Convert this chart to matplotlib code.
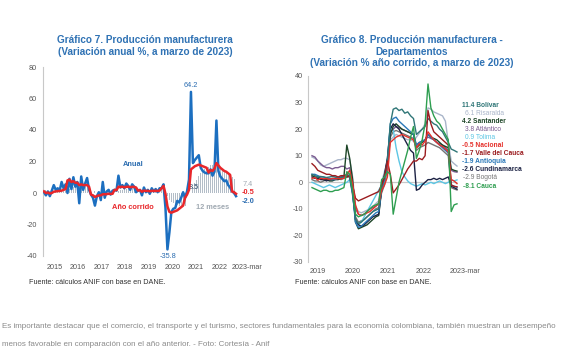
import numpy as np
import matplotlib
matplotlib.use("Agg")
import matplotlib.pyplot as plt

# ---- Gráfico 7: monthly, Jan 2015 - Mar 2023 ----
anual = [
    0.5, -1.5, 1.0, -2.0, 1.5, 5.0, 2.0, 3.0, 1.5, 7.0, 3.0, 5.5,          # 2015
    0.0, 9.0, 2.5, 10.0, 4.0, 7.0, -6.5, 10.5, 2.0, 6.0, 9.5, 2.0,         # 2016
    -1.0, -3.0, -8.0, -2.0, 0.5, -4.5, 7.0, -3.0, 1.0, 2.0, -1.0, 1.5,     # 2017
    2.0, 1.5, 11.0, 3.5, 5.0, 3.0, 6.0, 4.5, 2.0, 5.5, 4.0, 0.5,           # 2018
    1.5, 2.0, -1.5, 3.5, 0.5, 2.0, -0.5, 3.0, 1.0, 2.5, 0.5, 3.0,          # 2019
    3.0, 5.5, -9.5, -35.8, -25.0, -12.0, -10.0, -9.5, -5.0, -6.0, -3.0, 0.5,  # 2020
    -3.0, 1.0, 8.5, 64.2, 19.0, 21.0, 22.5, 24.0, 16.0, 14.0, 13.0, 12.5,  # 2021
    12.5, 15.0, 11.0, 13.5, 46.0, 14.0, 10.5, 9.0, 7.5, 8.0, 5.0, 3.5,     # 2022
    1.0, 0.0, -2.0,                                                        # 2023
]
anio_corrido = [
    1.0, 0.0, 0.3, -0.3, 0.0, 0.8, 1.0, 1.2, 1.3, 1.5, 2.0, 2.5,
    8.0, 8.5, 7.0, 7.5, 6.5, 6.5, 5.0, 5.5, 5.0, 5.0, 5.0, 4.0,
    -1.0, -1.5, -2.5, -2.0, -1.5, -1.5, -0.8, -0.8, -0.7, -0.5, -0.6, -0.5,
    2.0, 1.8, 4.0, 3.8, 4.0, 3.6, 3.9, 4.0, 3.7, 3.9, 3.9, 3.5,
    1.5, 1.8, 0.8, 1.5, 1.3, 1.4, 1.1, 1.4, 1.3, 1.4, 1.3, 1.5,
    3.0, 4.5, -0.5, -8.5, -12.0, -12.5, -12.0, -11.5, -11.0, -10.0, -9.0, -8.0,
    -3.0, -1.0, 2.0, 15.0, 16.0, 17.0, 17.5, 18.0, 17.5, 17.0, 16.5, 16.0,
    13.0, 14.5, 14.0, 15.5, 19.0, 17.5, 16.0, 15.0, 14.0, 13.5, 12.5, 11.5,
    1.0, 0.5, -0.5,
]
doce_meses = [
    2.5, 2.0, 1.5, 1.2, 1.0, 1.0, 1.0, 1.2, 1.2, 1.3, 1.5, 1.5,
    2.0, 2.8, 2.8, 3.5, 3.6, 3.8, 3.0, 3.6, 3.5, 3.8, 4.0, 3.5,
    3.2, 2.2, 1.3, 0.0, -0.2, -1.0, 0.5, -0.5, -0.3, -0.6, -1.5, -0.5,
    -0.3, -0.1, 1.5, 1.8, 2.1, 2.7, 2.7, 3.3, 3.3, 3.6, 4.0, 3.5,
    3.5, 3.6, 2.5, 2.5, 2.1, 2.0, 1.4, 1.3, 1.3, 1.0, 0.7, 1.5,
    1.6, 1.8, 1.0, -2.2, -4.5, -5.6, -6.4, -7.4, -7.8, -8.4, -8.7, -8.0,
    -8.5, -8.7, -7.5, 0.5, 4.0, 6.5, 8.5, 11.0, 12.5, 14.0, 15.0, 15.5,
    16.5, 17.5, 17.5, 14.5, 17.5, 17.0, 16.0, 15.0, 14.0, 13.5, 12.5, 11.0,
    10.0, 9.0, 7.4,
]
years_left = ["2015", "2016", "2017", "2018", "2019", "2020", "2021", "2022", "2023-mar"]

# ---- Gráfico 8: año corrido por departamento, Jan 2019 - Mar 2023 ----
bolivar = [
    3.0, 2.5, 2.0, 2.2, 2.0, 1.8, 2.0, 2.2, 2.0, 1.5, 1.8, 2.0,
    3.0, 2.0, -3.0, -14.0, -15.5, -15.0, -14.0, -13.0, -12.0, -11.0, -10.5, -10.0,
    -2.0, 2.0, 8.0, 22.0, 27.5, 28.0, 27.0, 27.5, 26.0, 26.5, 25.0, 24.0,
    18.0, 19.0, 20.0, 21.0, 24.0, 23.0, 22.0, 21.5, 20.0, 19.0, 17.0, 15.0,
    12.5, 12.0, 11.4,
]
risaralda = [
    9.5, 9.0, 8.0, 6.5, 6.0, 6.5, 7.0, 7.5, 8.0, 8.5, 8.5, 9.0,
    9.0, 8.5, 2.0, -9.0, -11.0, -11.5, -11.0, -10.5, -10.0, -9.0, -8.0, -7.0,
    0.0, 4.0, 8.0, 16.0, 17.0, 18.0, 17.5, 17.0, 16.5, 16.0, 16.0, 15.5,
    17.0, 18.5, 20.0, 22.0, 28.0, 27.5, 26.5, 26.0, 25.5, 25.0, 23.0, 15.0,
    8.0, 7.0, 6.1,
]
santander = [
    2.5, 2.0, 2.0, 1.5, 1.0, 1.0, 0.5, 0.5, 1.0, 1.0, 1.5, 2.0,
    14.0, 9.0, 1.0, -15.0, -17.5, -17.0, -16.5, -16.0, -15.0, -14.0, -13.0, -12.5,
    -3.0, 2.0, 8.0, 18.0, 21.0, 22.0, 21.0, 20.0, 19.5, 19.0, 18.5, 18.0,
    13.0, 14.0, 15.0, 16.0, 18.0, 17.0, 16.5, 16.0, 15.0, 14.0, 13.5, 13.0,
    5.0, 4.5, 4.2,
]
atlantico = [
    10.0, 9.5, 8.0, 7.0, 6.0, 5.5, 5.5, 5.0, 5.5, 5.5, 6.0, 6.0,
    5.0, 5.5, 0.0, -10.0, -12.0, -12.5, -12.0, -11.0, -10.0, -9.5, -9.0, -8.0,
    -1.0, 2.0, 6.0, 19.0, 20.0, 21.0, 20.5, 20.0, 19.5, 19.0, 18.5, 18.0,
    14.0, 15.0, 15.5, 16.0, 17.0, 16.5, 16.0, 15.0, 14.5, 14.0, 13.0, 12.0,
    4.5, 4.0, 3.8,
]
tolima = [
    0.0, -0.5, -1.0, -1.5, -2.0, -1.5, -1.0, -1.5, -2.0, -1.5, -1.0, -0.5,
    0.0, 1.0, -4.0, -15.0, -16.0, -15.0, -13.0, -11.0, -9.0, -7.0, -5.0, -3.0,
    -1.0, 2.0, 9.0, 21.0, 20.0, 13.0, 8.0, 4.0, 2.0, 0.5, -0.5, -1.0,
    -1.5, -1.0, -0.5, -1.0, -0.5, 0.0, -0.5, 0.0, 0.5, 0.0, -0.5, 0.0,
    1.0, 0.5, 0.9,
]
valle = [
    7.0, 6.0, 4.5, 4.0, 3.5, 3.0, 3.0, 2.5, 2.5, 2.0, 2.5, 2.5,
    2.0, 2.5, -1.0, -6.0, -7.0, -6.5, -6.0, -5.5, -5.0, -4.5, -4.0, -3.5,
    -1.0, 2.0, 8.0, 3.0, -4.0, -2.5, -1.0, 1.0, 3.0, 5.0, 6.5, 8.0,
    8.0, 9.0, 8.5, 10.0, 27.0, 22.0, 19.0, 18.0, 17.0, 16.0, 15.0, 14.0,
    -1.0, -1.5, -1.7,
]
antioquia = [
    3.0, 3.0, 2.5, 2.0, 2.0, 1.5, 1.5, 1.0, 1.0, 1.5, 1.5, 2.0,
    2.0, 3.0, -4.0, -15.0, -17.0, -16.5, -15.5, -14.5, -13.5, -12.5, -11.5, -11.0,
    -3.0, 1.0, 7.0, 22.0, 24.0, 24.5, 23.0, 22.0, 21.0, 20.0, 19.0, 18.0,
    14.0, 15.0, 15.5, 16.0, 18.0, 17.0, 16.0, 15.0, 14.0, 13.0, 12.0, 11.0,
    -1.0, -1.5, -1.9,
]
cundinamarca = [
    2.0, 1.5, 1.5, 1.0, 1.0, 0.5, 1.0, 1.0, 1.5, 1.5, 2.0, 2.0,
    3.0, 2.0, -4.0, -14.0, -16.0, -16.5, -16.0, -15.0, -14.0, -13.0, -12.5, -12.0,
    -2.0, 3.0, 9.0, 20.0, 22.0, 21.0, 20.0, 18.0, 16.0, 14.0, 12.0, 11.0,
    -3.0, -2.5, -1.0, 0.0, 1.0, 1.0, 1.5, 1.0, 1.5, 1.0, 1.5, 2.0,
    -1.5, -2.0, -2.6,
]
bogota = [
    1.0, 0.5, 0.5, 0.0, 0.5, 1.0, 1.0, 1.5, 1.5, 1.5, 1.0, 1.5,
    2.0, 2.0, -5.0, -13.0, -15.0, -14.5, -14.0, -13.0, -12.0, -11.0, -10.0, -9.5,
    -4.0, -1.0, 5.0, 17.0, 19.0, 19.5, 19.0, 18.5, 18.0, 17.5, 17.0, 16.5,
    12.0, 13.0, 13.5, 14.0, 15.0, 14.5, 14.0, 13.5, 13.0, 12.0, 11.0, 10.0,
    -2.0, -2.5, -2.9,
]
cauca = [
    -2.0, -2.5, -3.0, -3.5, -3.0, -3.0, -3.5, -3.5, -3.0, -3.0, -2.5, -2.0,
    4.0, 3.0, -3.0, -12.0, -13.0, -12.5, -12.0, -11.0, -10.0, -9.0, -8.5, -8.0,
    1.0, 2.0, 4.0, 3.0, -12.0, -6.0, 0.0, 4.0, 8.0, 12.0, 17.0, 21.0,
    9.0, 12.0, 16.0, 22.0, 37.0, 28.0, 25.0, 23.0, 22.0, 20.0, 18.0, 16.0,
    -11.0, -8.5, -8.1,
]
nacional = anio_corrido[48:]  # same national series from Jan 2019

deptos = ["Bolívar", "Risaralda", "Santander", "Atlántico", "Tolima", "Nacional",
          "Valle del Cauca", "Antioquia", "Cundinamarca", "Bogotá", "Cauca"]
series_right = [bolivar, risaralda, santander, atlantico, tolima, nacional,
                valle, antioquia, cundinamarca, bogota, cauca]
years_right = ["2019", "2020", "2021", "2022", "2023-mar"]

colors_right = ["#2f7677", "#a9b5c9", "#1d4527", "#7b5b90", "#5cc6e4", "#e5302a",
                "#9b1c1f", "#2a78b8", "#1c2244", "#767676", "#2e9e50"]
bold_right = [True, False, True, False, False, True, True, True, True, False, True]
label_indent = [0, 3.2, 0, 3.2, 3.2, 0, 0, 0, 0, 1.6, 1.6]  # px

plt.rcParams["font.family"] = ["Liberation Sans", "DejaVu Sans"]
plt.rcParams["axes.unicode_minus"] = False

W, H = 580, 357
fig = plt.figure(figsize=(W / 100, H / 100), dpi=100)
fig.patch.set_facecolor("white")


def px_axes(x0, y0, x1, y1):
    return fig.add_axes([x0 / W, 1 - y1 / H, (x1 - x0) / W, (y1 - y0) / H])


# ---------------- left chart ----------------
ax1 = px_axes(43, 67, 251.7, 256)
m = np.arange(len(anual))
ax1.bar(m, doce_meses, width=0.45, color="#b3bdc7", zorder=1)
ax1.plot(m, anual, color="#1c6fc0", lw=1.8, zorder=3, solid_joinstyle="round")
ax1.plot(m, anio_corrido, color="#e8262a", lw=1.8, zorder=4, solid_joinstyle="round")
ax1.set_xlim(-0.5, 106)
ax1.set_ylim(-40, 80)
ax1.set_yticks([-40, -20, 0, 20, 40, 60, 80])
ax1.set_xticks([5.5 + 12 * i for i in range(8)] + [103.6])
ax1.set_xticklabels(years_left)
ax1.tick_params(axis="both", length=0, labelsize=5.2, colors="#555555")
ax1.tick_params(axis="y", pad=4.3)
ax1.tick_params(axis="x", pad=6)
for s in ["top", "right", "bottom"]:
    ax1.spines[s].set_visible(False)
ax1.spines["left"].set_color("#c8c8c8")
ax1.spines["left"].set_linewidth(0.8)

lab = dict(fontsize=5.3, ha="center", va="center", clip_on=False)
ax1.text(75, 68.2, "64.2", color="#2a6cb0", **lab)
ax1.text(63.3, -40.6, "-35.8", color="#2a6cb0", **lab)
ax1.text(45.4, 17.8, "Anual", color="#2a6cb0", fontweight="bold", **lab)
ax1.text(45.4, -8.9, "Año corrido", color="#e8262a", fontweight="bold", **lab)
ax1.text(76.5, 3.8, "8.5", color="#2b4a6b", **lab)
ax1.text(86.2, -8.9, "12 meses", color="#a0a9b2", fontweight="bold", **lab)
ax1.text(104.1, 5.7, "7.4", color="#a0a9b2", **lab)
ax1.text(104.1, 0.2, "-0.5", color="#e8262a", fontweight="bold", **lab)
ax1.text(104.1, -5.1, "-2.0", color="#2a6cb0", fontweight="bold", **lab)

# ---------------- right chart ----------------
ax2 = px_axes(308, 76, 471.5, 262)
t = np.arange(len(bolivar))
ax2.hlines(0, -1.38, len(bolivar) - 1, color="#c8c8c8", lw=0.9, zorder=0)
draw_order = [1, 9, 4, 3, 2, 8, 7, 0, 6, 5, 10]
for i in draw_order:
    ax2.plot(t, series_right[i], color=colors_right[i], lw=1.0, zorder=2 + draw_order.index(i))
ax2.set_xlim(-1.38, 55)
ax2.set_ylim(-30, 40)
ax2.set_yticks([-30, -20, -10, 0, 10, 20, 30, 40])
ax2.set_xticks([2, 14, 26, 38.5, 52.8])
ax2.set_xticklabels(years_right)
ax2.tick_params(axis="both", length=0, labelsize=5.2, colors="#555555")
ax2.tick_params(axis="y", pad=3.6)
ax2.tick_params(axis="x", pad=4.5)
for s in ["top", "right", "bottom"]:
    ax2.spines[s].set_visible(False)
ax2.spines["left"].set_color("#c8c8c8")
ax2.spines["left"].set_linewidth(0.8)

for i, name in enumerate(deptos):
    val = series_right[i][-1]
    ypx = 105 + i * 8.1
    xpx = 461.7 + label_indent[i]
    fig.text(xpx / W, 1 - ypx / H, f"{val:.1f} {name}", color=colors_right[i],
             fontsize=4.8, fontweight="bold" if bold_right[i] else "normal",
             ha="left", va="center")

# ---------------- titles and notes ----------------
tcol = "#2f72b4"
tk = dict(fontsize=7.2, fontweight="bold", color=tcol, ha="center", va="center")
fig.text(145 / W, 1 - 40 / H, "Gráfico 7. Producción manufacturera", **tk)
fig.text(145 / W, 1 - 52 / H, "(Variación anual %, a marzo de 2023)", **tk)
fig.text(411.7 / W, 1 - 40 / H, "Gráfico 8. Producción manufacturera -", **tk)
fig.text(411.7 / W, 1 - 51.7 / H, "Departamentos", **tk)
fig.text(411.7 / W, 1 - 62.7 / H, "(Variación % año corrido, a marzo de 2023)", **tk)

fk = dict(fontsize=5.2, color="#333333", ha="left", va="center")
fig.text(29 / W, 1 - 283 / H, "Fuente: cálculos ANIF con base en DANE.", **fk)
fig.text(295 / W, 1 - 283 / H, "Fuente: cálculos ANIF con base en DANE.", **fk)

ck = dict(fontsize=5.75, color="#8a8a8a", ha="left", va="center")
fig.text(2 / W, 1 - 327 / H,
         "Es importante destacar que el comercio, el transporte y el turismo, sectores "
         "fundamentales para la economía colombiana, también muestran un desempeño", **ck)
fig.text(2 / W, 1 - 345 / H,
         "menos favorable en comparación con el año anterior. - Foto: Cortesía - Anif", **ck)

fig.savefig("out.png", dpi=100)
